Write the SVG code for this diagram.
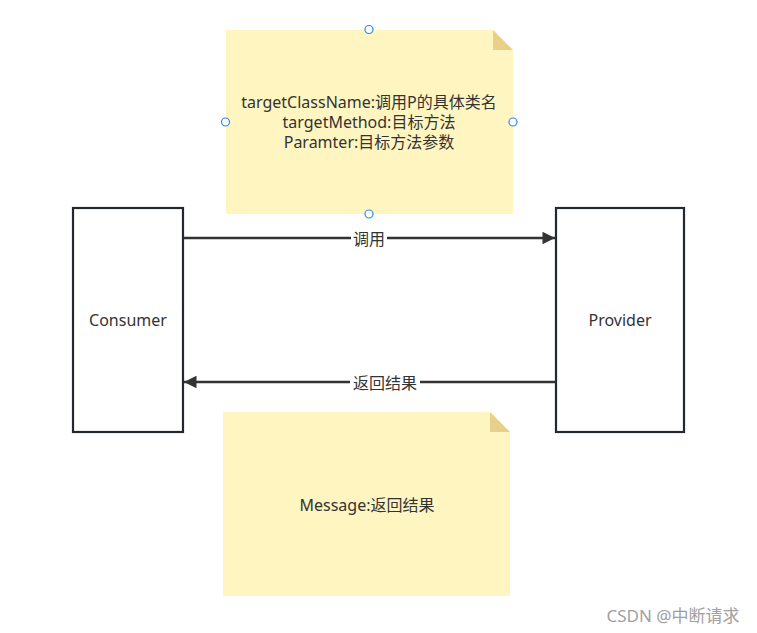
<svg xmlns="http://www.w3.org/2000/svg" width="757" height="633" viewBox="0 0 757 633">
<style>
text{font-family:"Microsoft YaHei","Noto Sans","Noto Sans CJK SC",sans-serif;fill:#333;text-anchor:middle;dominant-baseline:central}
.note{fill:#fff5c1}
.fold{fill:#e8d08a}
.box{fill:#fff;stroke:#23272e;stroke-width:2.2}
.edge{stroke:#333;stroke-width:2.5;fill:none}
.h{fill:#fff;stroke:#2a8ae8;stroke-width:1.2}
.t{font-size:16px}
</style>
<defs>
<marker id="arr" viewBox="0 0 10 10" refX="10" refY="5" markerWidth="6.5" markerHeight="5" markerUnits="strokeWidth" orient="auto"><path d="M0,0 L10,5 L0,10 z" fill="#333"/></marker>
</defs>
<rect width="757" height="633" fill="#fff"/>
<g id="note1">
<path class="note" d="M226,30 H493 L513,50 V214 H226 z"/>
<path class="fold" d="M493,30 L513,50 H493 z"/>
<text class="t" x="369" y="102">targetClassName:调用P的具体类名</text>
<text class="t" x="369" y="122">targetMethod:目标方法</text>
<text class="t" x="369" y="142">Paramter:目标方法参数</text>
<circle class="h" cx="369" cy="29.5" r="4"/>
<circle class="h" cx="225.5" cy="122" r="4"/>
<circle class="h" cx="513" cy="122" r="4"/>
<circle class="h" cx="369" cy="214" r="4"/>
</g>
<g id="consumer">
<rect class="box" x="73" y="208" width="110" height="224"/>
<text class="t" x="128" y="320">Consumer</text>
</g>
<g id="provider">
<rect class="box" x="556" y="208" width="128" height="224"/>
<text class="t" x="620" y="320">Provider</text>
</g>
<g id="note2">
<path class="note" d="M223,412 H490 L510,432 V596 H223 z"/>
<path class="fold" d="M490,412 L510,432 H490 z"/>
<text class="t" x="367" y="505">Message:返回结果</text>
</g>
<g id="connectors">
<line class="edge" x1="184" y1="238" x2="555" y2="238" marker-end="url(#arr)"/>
<rect x="351" y="229" width="36" height="18" fill="#fff"/>
<text class="t" x="369" y="239">调用</text>
<line class="edge" x1="556" y1="382" x2="184" y2="382" marker-end="url(#arr)"/>
<rect x="350" y="373" width="70" height="18" fill="#fff"/>
<text class="t" x="385" y="383">返回结果</text>
</g>
<text x="673" y="615" style="font-size:17px;fill:#a0a0a0">CSDN @中断请求</text>
</svg>
